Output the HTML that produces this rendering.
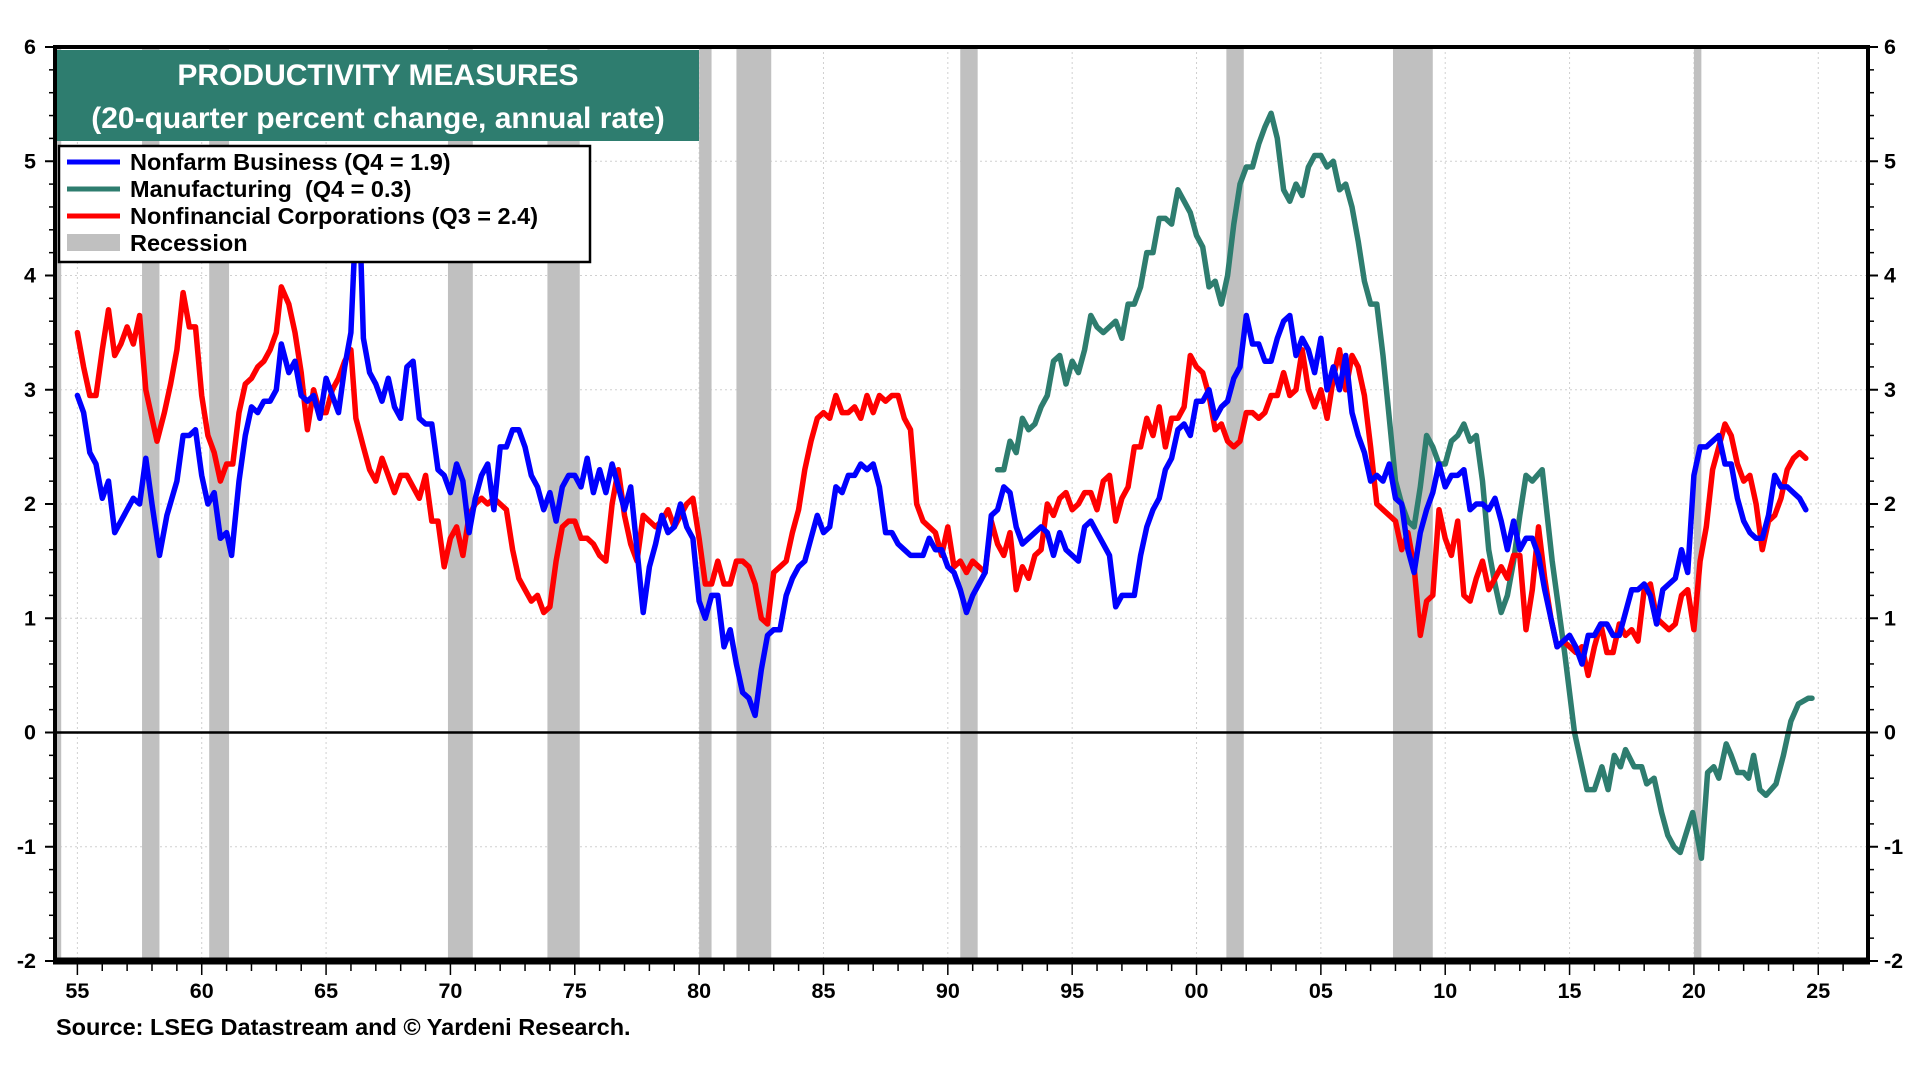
<!DOCTYPE html>
<html><head><meta charset="utf-8">
<style>
html,body{margin:0;padding:0;background:#fff;}
svg{display:block;font-family:"Liberation Sans",Arial,sans-serif;}
</style></head>
<body>
<svg id="chart" width="1920" height="1080" viewBox="0 0 1920 1080" xmlns="http://www.w3.org/2000/svg">
  <rect x="0" y="0" width="1920" height="1080" fill="#fff"/>
  <g id="grid"></g>
  <g id="rec"></g>
  <g id="series"></g>
  <g id="axes"></g>
  <g>
    <rect x="57" y="50" width="642" height="91" fill="#2e7d6f"/>
    <text x="378" y="85" text-anchor="middle" fill="#fff" font-size="30" font-weight="bold">PRODUCTIVITY MEASURES</text>
    <text x="378" y="128" text-anchor="middle" fill="#fff" font-size="30" font-weight="bold">(20-quarter percent change, annual rate)</text>
  </g>
  <g>
    <rect x="59" y="146" width="531" height="116" fill="#fff" stroke="#000" stroke-width="2.5"/>
    <g>
      <line x1="67" y1="162" x2="120" y2="162" stroke="#0000ff" stroke-width="5"/>
      <text x="130" y="170" font-size="23.5" font-weight="bold">Nonfarm Business (Q4 = 1.9)</text>
    </g>
    <g>
      <line x1="67" y1="189" x2="120" y2="189" stroke="#2e7d6f" stroke-width="5"/>
      <text x="130" y="197" font-size="23.5" font-weight="bold" xml:space="preserve">Manufacturing  (Q4 = 0.3)</text>
    </g>
    <g>
      <line x1="67" y1="216" x2="120" y2="216" stroke="#ff0000" stroke-width="5"/>
      <text x="130" y="224" font-size="23.5" font-weight="bold">Nonfinancial Corporations (Q3 = 2.4)</text>
    </g>
    <g>
      <rect x="67" y="234" width="53" height="17" fill="#c0c0c0"/>
      <text x="130" y="251" font-size="23.5" font-weight="bold">Recession</text>
    </g>
  </g>
  <text x="56" y="1035" font-size="23.5" font-weight="bold">Source: LSEG Datastream and © Yardeni Research.</text>
</svg>
<script>
const recStarts=[1953.6,1957.6,1960.3,1969.9,1973.9,1980.0,1981.5,1990.5,2001.2,2007.9,2020.0];
const recEnds=[1954.35,1958.3,1961.1,1970.9,1975.2,1980.5,1982.9,1991.2,2001.9,2009.5,2020.3];
const yTicks=[-2,-1,0,1,2,3,4,5,6];
const xTickYears=[1955,1960,1965,1970,1975,1980,1985,1990,1995,2000,2005,2010,2015,2020,2025];
const xTickLabels=["55","60","65","70","75","80","85","90","95","00","05","10","15","20","25"];

const nonfarmYears=[1955,1955.25,1955.5,1955.75,1956,1956.25,1956.5,1957,1957.25,1957.5,1957.75,1958,1958.3,1958.6,1959,1959.25,1959.5,1959.75,1960,1960.25,1960.5,1960.75,1961,1961.2,1961.5,1961.75,1962,1962.25,1962.5,1962.75,1963,1963.2,1963.5,1963.75,1964,1964.25,1964.5,1964.75,1965,1965.25,1965.5,1965.75,1966,1966.2,1966.35,1966.5,1966.75,1967,1967.25,1967.5,1967.75,1968,1968.25,1968.5,1968.75,1969,1969.25,1969.5,1969.75,1970,1970.25,1970.5,1970.75,1971,1971.25,1971.5,1971.75,1972,1972.25,1972.5,1972.75,1973,1973.25,1973.5,1973.75,1974,1974.25,1974.5,1974.75,1975,1975.25,1975.5,1975.75,1976,1976.25,1976.5,1976.75,1977,1977.25,1977.5,1977.75,1978,1978.25,1978.5,1978.75,1979,1979.25,1979.5,1979.75,1980,1980.25,1980.5,1980.75,1981,1981.25,1981.5,1981.75,1982,1982.25,1982.5,1982.75,1983,1983.25,1983.5,1983.75,1984,1984.25,1984.5,1984.75,1985,1985.25,1985.5,1985.75,1986,1986.25,1986.5,1986.75,1987,1987.25,1987.5,1987.75,1988,1988.25,1988.5,1988.75,1989,1989.25,1989.5,1989.75,1990,1990.25,1990.5,1990.75,1991,1991.25,1991.5,1991.75,1992,1992.25,1992.5,1992.75,1993,1993.25,1993.5,1993.75,1994,1994.25,1994.5,1994.75,1995,1995.25,1995.5,1995.75,1996,1996.25,1996.5,1996.75,1997,1997.25,1997.5,1997.75,1998,1998.25,1998.5,1998.75,1999,1999.25,1999.5,1999.75,2000,2000.25,2000.5,2000.75,2001,2001.25,2001.5,2001.75,2002,2002.25,2002.5,2002.75,2003,2003.25,2003.5,2003.75,2004,2004.25,2004.5,2004.75,2005,2005.25,2005.5,2005.75,2006,2006.25,2006.5,2006.75,2007,2007.25,2007.5,2007.75,2008,2008.25,2008.5,2008.75,2009,2009.25,2009.5,2009.75,2010,2010.25,2010.5,2010.75,2011,2011.25,2011.5,2011.75,2012,2012.25,2012.5,2012.75,2013,2013.25,2013.5,2013.75,2014,2014.25,2014.5,2014.75,2015,2015.25,2015.5,2015.75,2016,2016.25,2016.5,2016.75,2017,2017.25,2017.5,2017.75,2018,2018.25,2018.5,2018.75,2019,2019.25,2019.5,2019.75,2020,2020.25,2020.5,2020.75,2021,2021.25,2021.5,2021.75,2022,2022.25,2022.5,2022.75,2023,2023.25,2023.5,2023.75,2024,2024.25,2024.5,2024.75];
const nonfarmValues=[2.95,2.8,2.45,2.35,2.05,2.2,1.75,1.95,2.05,2.0,2.4,2.0,1.55,1.9,2.2,2.6,2.6,2.65,2.25,2.0,2.1,1.7,1.75,1.55,2.2,2.6,2.85,2.8,2.9,2.9,3.0,3.4,3.15,3.25,2.95,2.9,2.95,2.75,3.1,2.95,2.8,3.2,3.5,4.5,4.5,3.45,3.15,3.05,2.9,3.1,2.85,2.75,3.2,3.25,2.75,2.7,2.7,2.3,2.25,2.1,2.35,2.2,1.75,2.05,2.25,2.35,1.95,2.5,2.5,2.65,2.65,2.5,2.25,2.15,1.95,2.1,1.85,2.15,2.25,2.25,2.15,2.4,2.1,2.3,2.1,2.35,2.15,1.95,2.15,1.6,1.05,1.45,1.65,1.9,1.75,1.8,2.0,1.8,1.7,1.15,1.0,1.2,1.2,0.75,0.9,0.6,0.35,0.3,0.15,0.55,0.85,0.9,0.9,1.2,1.35,1.45,1.5,1.7,1.9,1.75,1.8,2.15,2.1,2.25,2.25,2.35,2.3,2.35,2.15,1.75,1.75,1.65,1.6,1.55,1.55,1.55,1.7,1.6,1.6,1.45,1.4,1.25,1.05,1.2,1.3,1.4,1.9,1.95,2.15,2.1,1.8,1.65,1.7,1.75,1.8,1.75,1.55,1.75,1.6,1.55,1.5,1.8,1.85,1.75,1.65,1.55,1.1,1.2,1.2,1.2,1.55,1.8,1.95,2.05,2.3,2.4,2.65,2.7,2.6,2.9,2.9,3.0,2.75,2.85,2.9,3.1,3.2,3.65,3.4,3.4,3.25,3.25,3.45,3.6,3.65,3.3,3.45,3.35,3.15,3.45,3.0,3.2,3.0,3.3,2.8,2.6,2.45,2.2,2.25,2.2,2.35,2.05,2.0,1.6,1.4,1.75,1.95,2.1,2.35,2.15,2.25,2.25,2.3,1.95,2.0,2.0,1.95,2.05,1.85,1.6,1.85,1.6,1.7,1.7,1.55,1.25,1.0,0.75,0.8,0.85,0.75,0.6,0.85,0.85,0.95,0.95,0.85,0.85,1.05,1.25,1.25,1.3,1.2,0.95,1.25,1.3,1.35,1.6,1.4,2.25,2.5,2.5,2.55,2.6,2.35,2.35,2.05,1.85,1.75,1.7,1.7,1.9,2.25,2.15,2.15,2.1,2.05,1.95];

const corpYears=[1955,1955.25,1955.5,1955.75,1956,1956.25,1956.5,1956.75,1957,1957.25,1957.5,1957.75,1958.2,1958.5,1958.75,1959,1959.25,1959.5,1959.75,1960,1960.25,1960.5,1960.75,1961,1961.25,1961.5,1961.75,1962,1962.25,1962.5,1962.75,1963,1963.2,1963.5,1963.75,1964,1964.25,1964.5,1964.75,1965,1965.25,1965.5,1965.75,1966,1966.2,1966.5,1966.75,1967,1967.25,1967.5,1967.75,1968,1968.25,1968.5,1968.75,1969,1969.25,1969.5,1969.75,1970,1970.25,1970.5,1970.75,1971,1971.25,1971.5,1971.75,1972,1972.25,1972.5,1972.75,1973,1973.25,1973.5,1973.75,1974,1974.25,1974.5,1974.75,1975,1975.25,1975.5,1975.75,1976,1976.25,1976.5,1976.75,1977,1977.25,1977.5,1977.75,1978,1978.25,1978.5,1978.75,1979,1979.25,1979.5,1979.75,1980,1980.25,1980.5,1980.75,1981,1981.25,1981.5,1981.75,1982,1982.25,1982.5,1982.75,1983,1983.25,1983.5,1983.75,1984,1984.25,1984.5,1984.75,1985,1985.25,1985.5,1985.75,1986,1986.25,1986.5,1986.75,1987,1987.25,1987.5,1987.75,1988,1988.25,1988.5,1988.75,1989,1989.25,1989.5,1989.75,1990,1990.25,1990.5,1990.75,1991,1991.25,1991.5,1991.75,1992,1992.25,1992.5,1992.75,1993,1993.25,1993.5,1993.75,1994,1994.25,1994.5,1994.75,1995,1995.25,1995.5,1995.75,1996,1996.25,1996.5,1996.75,1997,1997.25,1997.5,1997.75,1998,1998.25,1998.5,1998.75,1999,1999.25,1999.5,1999.75,2000,2000.25,2000.5,2000.75,2001,2001.25,2001.5,2001.75,2002,2002.25,2002.5,2002.75,2003,2003.25,2003.5,2003.75,2004,2004.25,2004.5,2004.75,2005,2005.25,2005.5,2005.75,2006,2006.25,2006.5,2006.75,2007,2007.25,2007.5,2007.75,2008,2008.25,2008.5,2008.75,2009,2009.25,2009.5,2009.75,2010,2010.25,2010.5,2010.75,2011,2011.25,2011.5,2011.75,2012,2012.25,2012.5,2012.75,2013,2013.25,2013.5,2013.75,2014,2014.25,2014.5,2014.75,2015,2015.25,2015.5,2015.75,2016,2016.25,2016.5,2016.75,2017,2017.25,2017.5,2017.75,2018,2018.25,2018.5,2018.75,2019,2019.25,2019.5,2019.75,2020,2020.25,2020.5,2020.75,2021,2021.25,2021.5,2021.75,2022,2022.25,2022.5,2022.75,2023,2023.25,2023.5,2023.75,2024,2024.25,2024.5];
const corpValues=[3.5,3.2,2.95,2.95,3.35,3.7,3.3,3.4,3.55,3.4,3.65,3.0,2.55,2.8,3.05,3.35,3.85,3.55,3.55,2.95,2.6,2.45,2.2,2.35,2.35,2.8,3.05,3.1,3.2,3.25,3.35,3.5,3.9,3.75,3.5,3.15,2.65,3.0,2.8,2.8,3.0,3.1,3.25,3.35,2.75,2.5,2.3,2.2,2.4,2.25,2.1,2.25,2.25,2.15,2.05,2.25,1.85,1.85,1.45,1.7,1.8,1.55,1.9,2.0,2.05,2.0,2.05,2.0,1.95,1.6,1.35,1.25,1.15,1.2,1.05,1.1,1.5,1.8,1.85,1.85,1.7,1.7,1.65,1.55,1.5,2.0,2.3,1.9,1.65,1.5,1.9,1.85,1.8,1.85,1.95,1.8,1.9,2.0,2.05,1.7,1.3,1.3,1.5,1.3,1.3,1.5,1.5,1.45,1.3,1.0,0.95,1.4,1.45,1.5,1.75,1.95,2.3,2.55,2.75,2.8,2.75,2.95,2.8,2.8,2.85,2.75,2.95,2.8,2.95,2.9,2.95,2.95,2.75,2.65,2.0,1.85,1.8,1.75,1.55,1.8,1.45,1.5,1.4,1.5,1.45,1.4,1.85,1.65,1.55,1.75,1.25,1.45,1.35,1.55,1.6,2.0,1.9,2.05,2.1,1.95,2.0,2.1,2.1,1.95,2.2,2.25,1.85,2.05,2.15,2.5,2.5,2.75,2.6,2.85,2.5,2.75,2.75,2.85,3.3,3.2,3.15,2.95,2.65,2.7,2.55,2.5,2.55,2.8,2.8,2.75,2.8,2.95,2.95,3.15,2.95,3.0,3.35,3.0,2.85,3.0,2.75,3.1,3.35,3.0,3.3,3.2,2.95,2.5,2.0,1.95,1.9,1.85,1.6,1.75,1.45,0.85,1.15,1.2,1.95,1.7,1.55,1.85,1.2,1.15,1.35,1.5,1.25,1.35,1.45,1.35,1.55,1.55,0.9,1.25,1.8,1.35,1.0,0.75,0.8,0.75,0.7,0.75,0.5,0.75,0.95,0.7,0.7,0.95,0.85,0.9,0.8,1.25,1.3,1.0,0.95,0.9,0.95,1.2,1.25,0.9,1.5,1.8,2.3,2.5,2.7,2.6,2.35,2.2,2.25,2.0,1.6,1.85,1.9,2.05,2.3,2.4,2.45,2.4];

const mfgYears=[1992,1992.25,1992.5,1992.75,1993,1993.25,1993.5,1993.75,1994,1994.25,1994.5,1994.75,1995,1995.25,1995.5,1995.75,1996,1996.25,1996.5,1996.75,1997,1997.25,1997.5,1997.75,1998,1998.25,1998.5,1998.75,1999,1999.25,1999.5,1999.75,2000,2000.25,2000.5,2000.75,2001,2001.25,2001.5,2001.75,2002,2002.25,2002.5,2002.75,2003,2003.25,2003.5,2003.75,2004,2004.25,2004.5,2004.75,2005,2005.25,2005.5,2005.75,2006,2006.25,2006.5,2006.75,2007,2007.25,2007.5,2007.75,2008,2008.25,2008.5,2008.75,2009,2009.25,2009.5,2009.75,2010,2010.25,2010.5,2010.75,2011,2011.25,2011.5,2011.75,2012,2012.25,2012.5,2012.75,2013,2013.25,2013.5,2013.9,2014.3,2014.8,2015.2,2015.7,2016,2016.3,2016.55,2016.8,2017.05,2017.25,2017.6,2017.9,2018.1,2018.4,2018.7,2018.95,2019.2,2019.45,2019.95,2020.3,2020.55,2020.8,2021,2021.3,2021.5,2021.75,2022,2022.2,2022.4,2022.65,2022.9,2023.3,2023.6,2023.9,2024.2,2024.6,2024.75];
const mfgValues=[2.3,2.3,2.55,2.45,2.75,2.65,2.7,2.85,2.95,3.25,3.3,3.05,3.25,3.15,3.35,3.65,3.55,3.5,3.55,3.6,3.45,3.75,3.75,3.9,4.2,4.2,4.5,4.5,4.45,4.75,4.65,4.55,4.35,4.25,3.9,3.95,3.75,4.0,4.45,4.8,4.95,4.95,5.15,5.3,5.42,5.2,4.75,4.65,4.8,4.7,4.95,5.05,5.05,4.95,5.0,4.75,4.8,4.6,4.3,3.95,3.75,3.75,3.3,2.75,2.2,2.0,1.85,1.8,2.15,2.6,2.5,2.35,2.35,2.55,2.6,2.7,2.55,2.6,2.2,1.6,1.3,1.05,1.2,1.5,1.9,2.25,2.2,2.3,1.5,0.7,0.0,-0.5,-0.5,-0.3,-0.5,-0.2,-0.3,-0.15,-0.3,-0.3,-0.45,-0.4,-0.7,-0.9,-1.0,-1.05,-0.7,-1.1,-0.35,-0.3,-0.4,-0.1,-0.2,-0.35,-0.35,-0.4,-0.2,-0.5,-0.55,-0.45,-0.2,0.1,0.25,0.3,0.3];

const L=55,R=1868,T=47,B=961;
const X0=1954.1,X1=2027;
const Y0=-2,Y1=6;
function xs(y){return L+(y-X0)/(X1-X0)*(R-L);}
function ys(v){return B-(v-Y0)/(Y1-Y0)*(B-T);}
const NS="http://www.w3.org/2000/svg";
function mk(tag,parent,attrs){const e=document.createElementNS(NS,tag);for(const k in attrs)e.setAttribute(k,attrs[k]);parent.appendChild(e);return e;}

const grid=document.getElementById('grid');
for(const v of yTicks){
  if(v===Y0||v===Y1||v===0)continue;
  const g=mk('line',grid,{x1:L,x2:R,y1:ys(v),y2:ys(v),stroke:'#d0d0d0','stroke-width':1,'stroke-dasharray':'2,3'});
  
  
}
for(const yr of xTickYears){
  const g=mk('line',grid,{x1:xs(yr),x2:xs(yr),y1:T,y2:B,stroke:'#d0d0d0','stroke-width':1,'stroke-dasharray':'2,3'});
  
  
}

const rec=document.getElementById('rec');
for(let i=0;i<recStarts.length;i++){
  const a=Math.max(xs(recStarts[i]),L), b=xs(recEnds[i]);
  const r=mk('rect',rec,{x:a,y:T,width:Math.max(b-a,3),height:B-T,fill:'#c0c0c0'});
  
  
}

const axes=document.getElementById('axes');
const zl=mk('line',axes,{x1:L,x2:R,y1:ys(0),y2:ys(0),stroke:'#000','stroke-width':2.5});



const series=document.getElementById('series');
function drawLine(years,vals,color,name){
  let d='';
  for(let i=0;i<years.length;i++){d+=(i?'L':'M')+xs(years[i]).toFixed(1)+','+ys(vals[i]).toFixed(1);}
  const p=mk('path',series,{d:d,fill:'none',stroke:color,'stroke-width':5.5,'stroke-linejoin':'round','stroke-linecap':'round'});
  
  
}
drawLine(mfgYears,mfgValues,'#2e7d6f','manufacturing-line');
drawLine(corpYears,corpValues,'#ff0000','nonfinancial-corporations-line');
drawLine(nonfarmYears,nonfarmValues,'#0000ff','nonfarm-business-line');

const fr=mk('rect',axes,{x:L,y:T,width:R-L,height:B-T,fill:'none',stroke:'#000','stroke-width':4});


const bb=mk('line',axes,{x1:L-2,x2:R+2,y1:B,y2:B,stroke:'#000','stroke-width':7});



for(let v=Y0;v<=Y1+0.001;v+=0.2){
  const major=Math.abs(v-Math.round(v))<0.01;
  const w=major?10:6;
  const t1=mk('line',axes,{x1:L-w,x2:L,y1:ys(v),y2:ys(v),stroke:'#000','stroke-width':major?2:1.5});
  
  
  const t2=mk('line',axes,{x1:R,x2:R+w,y1:ys(v),y2:ys(v),stroke:'#000','stroke-width':major?2:1.5});
  
  
}
for(const v of yTicks){
  const a=mk('text',axes,{x:36,y:ys(v)+7,'text-anchor':'end','font-size':21.5,'font-weight':'bold'});
  a.textContent=String(v);
  
  
  const b=mk('text',axes,{x:1884,y:ys(v)+7,'text-anchor':'start','font-size':21.5,'font-weight':'bold'});
  b.textContent=String(v);
  
  
}
for(let yr=1955;yr<=2026;yr++){
  const major=yr%5===0;
  const t=mk('line',axes,{x1:xs(yr),x2:xs(yr),y1:B,y2:B+(major?14:10),stroke:'#000','stroke-width':1.5});
  
  
}
for(let i=0;i<xTickYears.length;i++){
  const t=mk('text',axes,{x:xs(xTickYears[i]),y:B+37,'text-anchor':'middle','font-size':21.5,'font-weight':'bold'});
  t.textContent=xTickLabels[i];
  
  
}
</script>
</body></html>
